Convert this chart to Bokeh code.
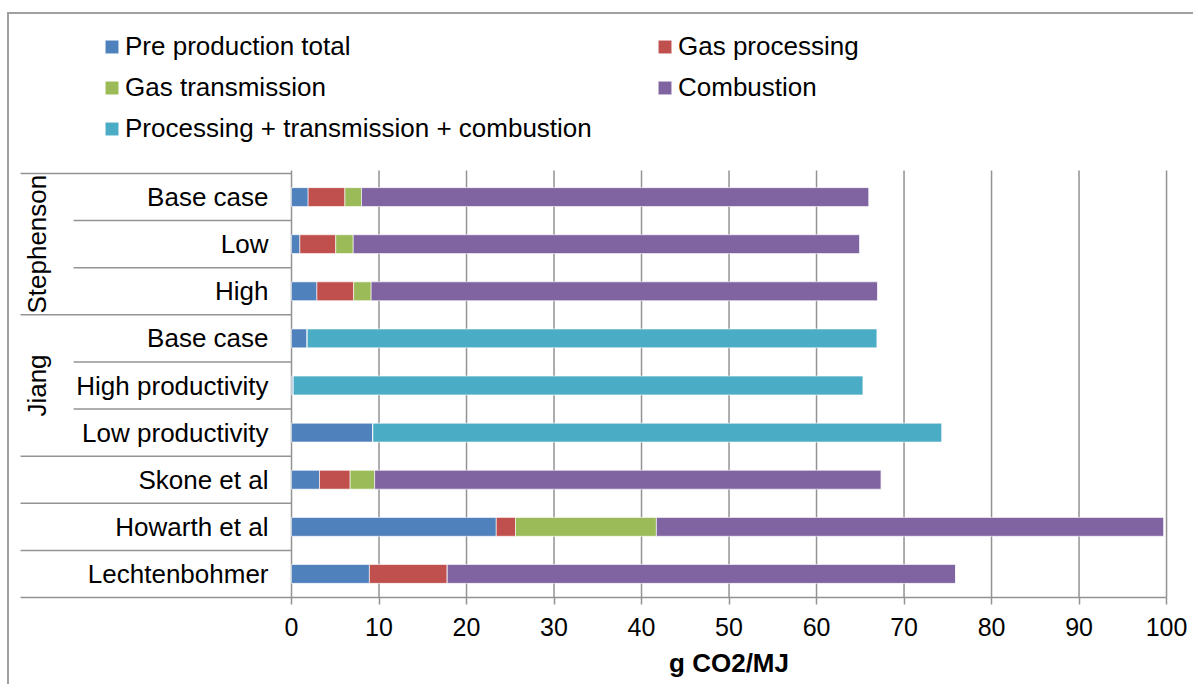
from bokeh.plotting import figure
from bokeh.models import Range1d, FixedTicker, ColumnDataSource, Label
from bokeh.core.properties import value
from bokeh.embed import file_html
from bokeh.resources import INLINE

# ---- data (bottom row first) ----
categories = ["Lechtenbohmer", "Howarth et al", "Skone et al",
              "Low productivity", "High productivity", "Base case",
              "High", "Low", "Base case"]
groups = ["", "", "", "Jiang", "Jiang", "Jiang",
          "Stephenson", "Stephenson", "Stephenson"]
pre_production = [8.9, 23.4, 3.2, 9.3, 0.2, 1.8, 2.9, 0.95, 1.9]
gas_processing = [8.9, 2.2, 3.5, 0.0, 0.0, 0.0, 4.2, 4.1, 4.2]
gas_transmission = [0.0, 16.1, 2.8, 0.0, 0.0, 0.0, 2.0, 2.0, 1.9]
combustion = [58.1, 58.0, 57.9, 0.0, 0.0, 0.0, 57.9, 57.9, 58.0]
proc_trans_comb = [0.0, 0.0, 0.0, 65.0, 65.1, 65.1, 0.0, 0.0, 0.0]
series_names = ["Pre production total", "Gas processing", "Gas transmission",
                "Combustion", "Processing + transmission + combustion"]
colors = ["#4F81BD", "#C0504D", "#9BBB59", "#8064A2", "#4BACC6"]
x_ticks = [0, 10, 20, 30, 40, 50, 60, 70, 80, 90, 100]
x_title = "g CO2/MJ"

FONT = "Liberation Sans"
GRID = "#939393"

n = len(categories)
ypos = list(range(n))
keys = ["pre", "proc", "trans", "comb", "ptc"]
source = ColumnDataSource(dict(y=ypos, pre=pre_production, proc=gas_processing,
                               trans=gas_transmission, comb=combustion,
                               ptc=proc_trans_comb))

# layout constants (screen pixels -> data units)
PX_X = 8.75          # px per x unit
PX_Y = 47.11         # px per row
x_start = -32.23
x_end = 103.31
y_start = -0.5 - 89 / PX_Y
y_end = n - 0.5 + 159 / PX_Y

p = figure(width=1186, height=672, output_backend="svg", toolbar_location=None,
           x_range=Range1d(x_start, x_end), y_range=Range1d(y_start, y_end),
           y_axis_location=None, min_border=0, min_border_left=0, min_border_right=0,
           min_border_top=0, min_border_bottom=0, margin=(12, 0, 0, 7),
           styles={"border-left": "2px solid #a0a0a0", "border-top": "2px solid #a0a0a0"})
p.outline_line_color = None
p.background_fill_color = "white"
p.border_fill_color = "white"
p.xgrid.visible = False
p.ygrid.visible = False

# x axis placed at the bottom of the rows
ax = p.xaxis[0]
ax.fixed_location = -0.5
ax.ticker = FixedTicker(ticks=x_ticks)
ax.bounds = (x_ticks[0], x_ticks[-1])
ax.axis_line_color = GRID
ax.axis_line_width = 1.5
ax.major_tick_line_color = GRID
ax.major_tick_line_width = 1.5
ax.major_tick_in = 0
ax.major_tick_out = 7
ax.minor_tick_line_color = None
ax.major_label_text_font = FONT
ax.major_label_text_font_size = "25px"
ax.major_label_text_color = "black"
ax.major_label_standoff = 14

# vertical grid lines over the rows
p.segment(x0=x_ticks, x1=x_ticks, y0=[-0.5] * len(x_ticks),
          y1=[n - 0.5 + 3 / PX_Y] * len(x_ticks), line_color=GRID, line_width=1.5)

# bars
p.hbar_stack(keys, y="y", height=0.4, source=source, color=colors,
             line_color="white", line_alpha=0.6, line_width=1,
             legend_label=series_names)

# category labels
p.text(x=[-2.63] * n, y=ypos, text=categories,
       text_font=value(FONT), text_font_size="26px", text_align="right",
       text_baseline="middle", text_color="black")

# group labels and separators
uniq = []
for g in groups:
    if g and g not in uniq:
        uniq.append(g)
gy = [sum(i for i, g in enumerate(groups) if g == u) / groups.count(u) for u in uniq]
p.text(x=[-29.1] * len(uniq), y=gy, text=uniq, angle=1.5708,
       text_font=value(FONT), text_font_size="26px", text_align="center",
       text_baseline="middle", text_color="black")

x_full = -30.97
x_sub = -24.9
sx0, sy = [], []
for i in range(n - 1):
    sx0.append(x_sub if (groups[i] and groups[i] == groups[i + 1]) else x_full)
    sy.append(i + 0.5)
sx0 += [x_full, x_full]
sy += [-0.5, n - 0.5]
p.segment(x0=sx0, y0=sy, x1=[0] * len(sy), y1=sy, line_color=GRID, line_width=1.5)

# legend
lg = p.legend[0]
lg.orientation = "horizontal"
lg.ncols = 2
lg.location = (94, 542)
lg.padding = 0
lg.margin = 0
lg.spacing = 10
lg.border_line_color = None
lg.background_fill_alpha = 0
lg.glyph_width = 17
lg.glyph_height = 17
lg.label_standoff = 5
lg.label_width = 521
lg.label_text_font = FONT
lg.label_text_font_size = "26px"
lg.label_text_color = "black"

# x axis title
p.add_layout(Label(x=50, y=-0.5 - 66 / PX_Y, text=x_title, text_font=FONT,
                   text_font_size="26px", text_font_style="bold",
                   text_align="center", text_baseline="middle", text_color="black"))

open("out.html", "w").write(file_html(p, INLINE))
